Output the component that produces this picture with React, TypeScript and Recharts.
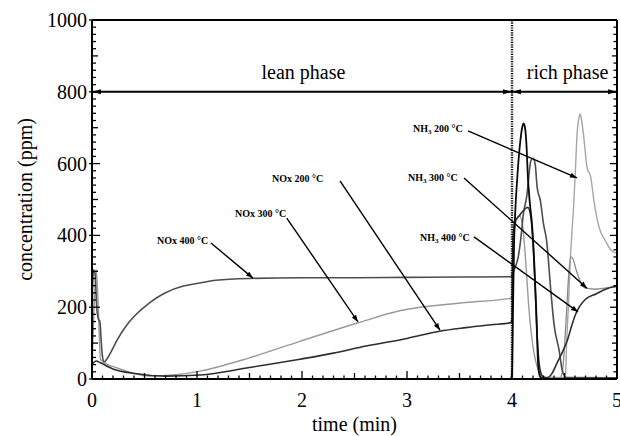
import React from 'react';
import { LineChart, Line, XAxis, YAxis, ReferenceLine, ReferenceDot, Label } from 'recharts';

const FONT = '"Liberation Serif", "Times New Roman", Times, serif';

// ---- axis ticks ----
const xMajorTicks = [0, 1, 2, 3, 4, 5];
const yMajorTicks = [0, 200, 400, 600, 800, 1000];
const X_MINOR_STEP = 0.1;
const Y_MINOR_STEP = 20;

// ---- series: [time (min), concentration (ppm)] ----
const nox400: [number, number][] = [
  [0, 20], [0.005, 250], [0.015, 304], [0.03, 290], [0.045, 200], [0.06, 168], [0.075, 160],
  [0.09, 95], [0.1, 62], [0.115, 48], [0.14, 55], [0.18, 75], [0.24, 109], [0.33, 150],
  [0.4, 174], [0.56, 215], [0.69, 239], [0.87, 259], [1.0, 266], [1.18, 275], [1.5, 280],
  [2.0, 282], [2.5, 282], [3.0, 283], [3.5, 284], [3.99, 285], [4.0, 288], [4.02, 304],
  [4.06, 341], [4.09, 407], [4.105, 452], [4.14, 508], [4.18, 608], [4.2, 615], [4.22, 600],
  [4.24, 533], [4.27, 497], [4.3, 432], [4.33, 385], [4.37, 245], [4.4, 153], [4.45, 78],
  [4.48, 22], [4.52, 4], [5.0, 3],
];
const nox300: [number, number][] = [
  [0, 30], [0.02, 200], [0.04, 305], [0.06, 200], [0.08, 55], [0.15, 40], [0.23, 32], [0.4, 15],
  [0.55, 8], [0.8, 12], [1.03, 22], [1.5, 59], [1.98, 105], [2.53, 156], [2.93, 190],
  [3.56, 213], [3.99, 225], [4.0, 240], [4.01, 330], [4.02, 400], [4.04, 440], [4.07, 455],
  [4.1, 430], [4.13, 330], [4.16, 200], [4.2, 90], [4.25, 25], [4.3, 5], [5.0, 3],
];
const nox200: [number, number][] = [
  [0, 40], [0.04, 50], [0.08, 45], [0.2, 28], [0.39, 16], [0.71, 8], [1.03, 11], [1.5, 32],
  [1.98, 55], [2.3, 72], [2.61, 92], [3.0, 113], [3.31, 133], [3.56, 143], [3.8, 151],
  [3.99, 157], [4.0, 170], [4.005, 300], [4.01, 400], [4.03, 440], [4.07, 455], [4.11, 470],
  [4.15, 478], [4.18, 450], [4.2, 380], [4.22, 260], [4.24, 120], [4.26, 40], [4.29, 8],
  [4.33, 3], [4.38, 15], [4.43, 45], [4.48, 75], [4.53, 110], [4.57, 150], [4.61, 183],
  [4.64, 200], [4.7, 222], [4.8, 237], [4.89, 250], [5.0, 259],
];
const nh3_400: [number, number][] = [
  [0, 0], [3.99, 0], [4.0, 15], [4.01, 200], [4.02, 380], [4.03, 460], [4.05, 560], [4.08, 665],
  [4.1, 705], [4.11, 712], [4.12, 706], [4.14, 640], [4.15, 570], [4.17, 490], [4.19, 432],
  [4.21, 337], [4.23, 198], [4.24, 106], [4.25, 35], [4.27, 5], [4.3, 0], [5.0, 0],
];
const nh3_300: [number, number][] = [
  [0, 0], [4.45, 0], [4.48, 20], [4.5, 90], [4.52, 190], [4.54, 290], [4.56, 340], [4.58, 335],
  [4.61, 305], [4.65, 272], [4.7, 253], [4.8, 250], [4.9, 254], [5.0, 257],
];
const nh3_200: [number, number][] = [
  [0, 0], [4.48, 0], [4.51, 15], [4.52, 100], [4.54, 220], [4.555, 330], [4.57, 405],
  [4.59, 497], [4.605, 589], [4.62, 683], [4.64, 730], [4.65, 738], [4.66, 725], [4.68, 683],
  [4.715, 589], [4.75, 562], [4.78, 497], [4.83, 422], [4.89, 385], [4.95, 357], [5.0, 350],
];

// ---- annotations (data coordinates) ----
const labels = [
  { main: 'NOx', sub: '', rest: ' 400 °C', t: 0.619, c: 376, at1: 1.133, ac1: 379, at2: 1.533, ac2: 281 },
  { main: 'NOx', sub: '', rest: ' 300 °C', t: 1.362, c: 451, at1: 1.855, ac1: 448, at2: 2.533, ac2: 159 },
  { main: 'NOx', sub: '', rest: ' 200 °C', t: 1.714, c: 549, at1: 2.362, ac1: 552, at2: 3.314, ac2: 136 },
  { main: 'NH', sub: '3', rest: ' 200 °C', t: 3.057, c: 688, at1: 3.581, ac1: 691, at2: 4.619, ac2: 560 },
  { main: 'NH', sub: '3', rest: ' 300 °C', t: 3.01, c: 552, at1: 3.543, ac1: 560, at2: 4.714, ac2: 253 },
  { main: 'NH', sub: '3', rest: ' 400 °C', t: 3.124, c: 384, at1: 3.638, ac1: 396, at2: 4.629, ac2: 187 },
];
const phases = [
  { name: 'lean phase', from: 0, to: 4, t: 2.014 },
  { name: 'rich phase', from: 4, to: 5, t: 4.529 },
];
const PHASE_LEVEL = 800;
const PHASE_LABEL_LEVEL = 836;
const PHASE_SWITCH = 4;

const toData = (arr: [number, number][]) => arr.map(([t, c]) => ({ t, c }));

const xAllTicks: number[] = [];
for (let i = 0; i <= Math.round(5 / X_MINOR_STEP); i++) xAllTicks.push(+(i * X_MINOR_STEP).toFixed(2));
const yAllTicks: number[] = [];
for (let i = 0; i <= Math.round(1000 / Y_MINOR_STEP); i++) yAllTicks.push(i * Y_MINOR_STEP);

const TM = 10; // tick margin used to recover axis line position

const isMult = (v: number, m: number) => Math.abs(v / m - Math.round(v / m)) < 1e-6;

const BottomTick = (p: any) => {
  const v = p.payload.value;
  const ay = p.y - TM;
  const len = isMult(v, 1) ? 8 : isMult(v, 0.5) ? 6 : 3.5;
  return (
    <g>
      <line x1={p.x} x2={p.x} y1={ay} y2={ay - len} stroke="#000" strokeWidth={1.3} />
      {xMajorTicks.some((m) => Math.abs(m - v) < 1e-6) && (
        <text x={p.x} y={ay + 28} textAnchor="middle" fontFamily={FONT} fontSize={20} fill="#000">
          {v}
        </text>
      )}
    </g>
  );
};
const TopTick = (p: any) => {
  const v = p.payload.value;
  const ay = p.y + TM;
  const len = isMult(v, 1) ? 8 : isMult(v, 0.5) ? 6 : 3.5;
  return <line x1={p.x} x2={p.x} y1={ay} y2={ay + len} stroke="#000" strokeWidth={1.3} />;
};
const LeftTick = (p: any) => {
  const v = p.payload.value;
  const ax = p.x + TM;
  const major = isMult(v, 200);
  const len = major ? 8 : isMult(v, 100) ? 6 : 4;
  return (
    <g>
      <line x1={major ? ax - 3 : ax} x2={ax + len} y1={p.y} y2={p.y} stroke="#000" strokeWidth={1.3} />
      {yMajorTicks.includes(v) && (
        <text x={ax - 5} y={p.y + 7} textAnchor="end" fontFamily={FONT} fontSize={20} fill="#000">
          {v}
        </text>
      )}
    </g>
  );
};
const RightTick = (p: any) => {
  const v = p.payload.value;
  const ax = p.x - TM;
  const len = isMult(v, 200) ? 7 : isMult(v, 100) ? 5 : 3.5;
  return <line x1={ax} x2={ax - len} y1={p.y} y2={p.y} stroke="#000" strokeWidth={1.3} />;
};

const head = (x: number, y: number, ux: number, uy: number, len: number, hw: number) => {
  const bx = x - ux * len;
  const by = y - uy * len;
  return `${x},${y} ${bx - uy * hw},${by + ux * hw} ${bx + uy * hw},${by - ux * hw}`;
};

const arrowShape = (both: boolean, w: number, len: number, hw: number) => (p: any) => {
  const { x1, y1, x2, y2 } = p;
  const L = Math.hypot(x2 - x1, y2 - y1) || 1;
  const ux = (x2 - x1) / L;
  const uy = (y2 - y1) / L;
  return (
    <g>
      <line x1={x1} y1={y1} x2={x2} y2={y2} stroke="#000" strokeWidth={w} />
      <polygon points={head(x2, y2, ux, uy, len, hw)} fill="#000" />
      {both && <polygon points={head(x1, y1, -ux, -uy, len, hw)} fill="#000" />}
    </g>
  );
};

const seriesStyle = [
  { data: nh3_200, color: '#a6a6a6', w: 1.4 },
  { data: nox300, color: '#9a9a9a', w: 1.4 },
  { data: nh3_300, color: '#8a8a8a', w: 1.3 },
  { data: nox400, color: '#4d4d4d', w: 1.6 },
  { data: nox200, color: '#2e2e2e', w: 1.6 },
  { data: nh3_400, color: '#0a0a0a', w: 1.8 },
];

export default function App() {
  return (
    <div style={{ position: 'absolute', left: 0, top: 0, width: 620, height: 436, background: '#fff' }}>
      <LineChart width={620} height={436} margin={{ top: 0, right: 0, bottom: 0, left: 0 }}>
        <XAxis
          xAxisId="top"
          orientation="top"
          type="number"
          domain={[0, 5]}
          ticks={xAllTicks}
          interval={0}
          height={20}
          tickLine={false}
          tickSize={0}
          tickMargin={TM}
          tick={(p: any) => <TopTick {...p} />}
          axisLine={{ stroke: '#000', strokeWidth: 2 }}
          allowDataOverflow
        />
        <XAxis
          xAxisId="bottom"
          dataKey="t"
          type="number"
          domain={[0, 5]}
          ticks={xAllTicks}
          interval={0}
          height={57}
          tickLine={false}
          tickSize={0}
          tickMargin={TM}
          tick={(p: any) => <BottomTick {...p} />}
          axisLine={{ stroke: '#000', strokeWidth: 2 }}
          allowDataOverflow
        >
          <Label
            content={(props: any) => {
              const vb = props.viewBox || {};
              return (
                <text x={vb.x + vb.width / 2} y={vb.y + 52} textAnchor="middle" fontFamily={FONT} fontSize={20} fill="#000">
                  time (min)
                </text>
              );
            }}
          />
        </XAxis>
        <YAxis
          yAxisId="left"
          type="number"
          domain={[0, 1000]}
          ticks={yAllTicks}
          interval={0}
          width={92}
          tickLine={false}
          tickSize={0}
          tickMargin={TM}
          tick={(p: any) => <LeftTick {...p} />}
          axisLine={{ stroke: '#000', strokeWidth: 2 }}
          allowDataOverflow
        >
          <Label
            content={(props: any) => {
              const vb = props.viewBox || {};
              const cx = vb.x + 32;
              const cy = vb.y + vb.height / 2;
              return (
                <text x={cx} y={cy} transform={`rotate(-90 ${cx} ${cy})`} textAnchor="middle" fontFamily={FONT} fontSize={20} fill="#000">
                  concentration (ppm)
                </text>
              );
            }}
          />
        </YAxis>
        <YAxis
          yAxisId="right"
          orientation="right"
          type="number"
          domain={[0, 1000]}
          ticks={yAllTicks}
          interval={0}
          width={3}
          tickLine={false}
          tickSize={0}
          tickMargin={TM}
          tick={(p: any) => <RightTick {...p} />}
          axisLine={{ stroke: '#000', strokeWidth: 2 }}
          allowDataOverflow
        />

        {seriesStyle.map((s, i) => (
          <Line
            key={i}
            data={toData(s.data)}
            dataKey="c"
            xAxisId="bottom"
            yAxisId="left"
            type="monotone"
            stroke={s.color}
            strokeWidth={s.w}
            dot={false}
            activeDot={false}
            isAnimationActive={false}
          />
        ))}

        <ReferenceLine
          x={PHASE_SWITCH}
          xAxisId="bottom"
          yAxisId="left"
          stroke="#000"
          strokeWidth={2.4}
          strokeDasharray="1.2 1.2"
        />

        {phases.map((ph) => (
          <ReferenceLine
            key={ph.name}
            xAxisId="bottom"
            yAxisId="left"
            segment={[{ x: ph.from, y: PHASE_LEVEL }, { x: ph.to, y: PHASE_LEVEL }]}
            shape={arrowShape(true, 2, 9, 2.5)}
          />
        ))}
        {phases.map((ph) => (
          <ReferenceDot
            key={ph.name + '-l'}
            xAxisId="bottom"
            yAxisId="left"
            x={ph.t}
            y={PHASE_LABEL_LEVEL}
            r={1}
            shape={(p: any) => (
              <text x={p.cx} y={p.cy} textAnchor="middle" fontFamily={FONT} fontSize={20} fill="#000">
                {ph.name}
              </text>
            )}
          />
        ))}

        {labels.map((lb, i) => (
          <ReferenceLine
            key={'a' + i}
            xAxisId="bottom"
            yAxisId="left"
            segment={[{ x: lb.at1, y: lb.ac1 }, { x: lb.at2, y: lb.ac2 }]}
            shape={arrowShape(false, 1.4, 7, 2.6)}
          />
        ))}
        {labels.map((lb, i) => (
          <ReferenceDot
            key={'l' + i}
            xAxisId="bottom"
            yAxisId="left"
            x={lb.t}
            y={lb.c}
            r={1}
            shape={(p: any) => (
              <text x={p.cx} y={p.cy} fontFamily={FONT} fontSize={10} fontWeight="bold" fill="#000">
                {lb.main}
                {lb.sub ? (
                  <tspan fontSize={7} dy={2}>
                    {lb.sub}
                  </tspan>
                ) : null}
                <tspan dy={lb.sub ? -2 : 0}>{lb.rest}</tspan>
              </text>
            )}
          />
        ))}
      </LineChart>
    </div>
  );
}
